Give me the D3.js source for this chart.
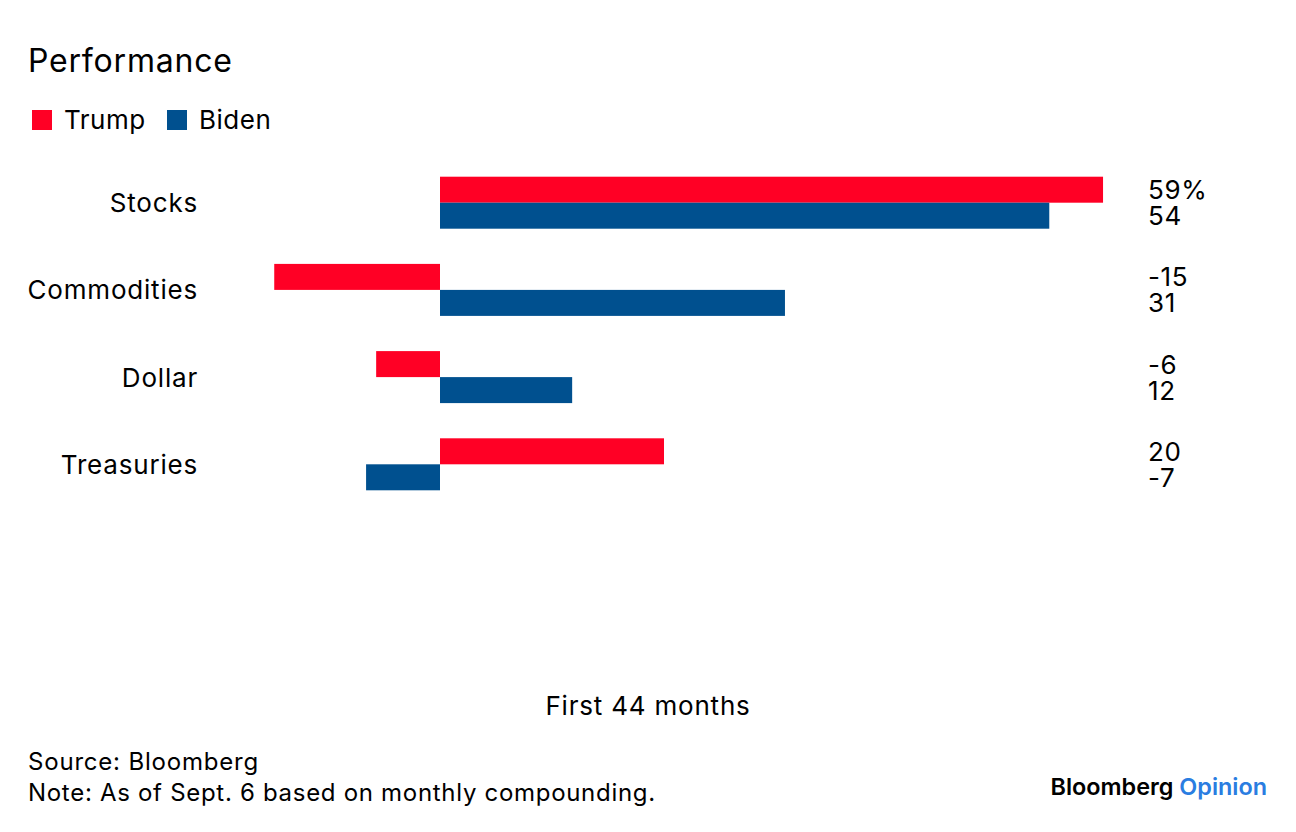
<!DOCTYPE html>
<html>
<head>
<meta charset="utf-8">
<script src="https://cdn.jsdelivr.net/npm/d3@7"></script>
<style>
  html, body { margin: 0; padding: 0; background: #fff; }
  svg text { font-family: Inter, "Liberation Sans", Arial, sans-serif; fill: #000; letter-spacing: 0.8px; }
</style>
</head>
<body>
<svg id="chart" width="1296" height="832"></svg>
<script>
const categories = ["Stocks", "Commodities", "Dollar", "Treasuries"];
const seriesNames = ["Trump", "Biden"];
const trumpValues = [59.2, -14.8, -5.7, 20.0];
const bidenValues = [54.4, 30.8, 11.8, -6.6];
const colors = ["#ff0025", "#00508f"];

const svg = d3.select("#chart");

// Title
svg.append("text").attr("x", 28).attr("y", 72)
  .style("font-size", "32px").text("Performance");

// Legend
const legend = svg.append("g");
const legendX = [32, 167];
seriesNames.forEach((name, i) => {
  legend.append("rect").attr("x", legendX[i]).attr("y", 110)
    .attr("width", 20).attr("height", 20).attr("fill", colors[i]);
  legend.append("text").attr("x", legendX[i] + 32).attr("y", 129)
    .style("font-size", "26px").style("letter-spacing", "0.5px").text(name);
});

// Scales
const x = d3.scaleLinear().domain([-20, 60]).range([216, 1112]);
const y = d3.scaleBand().domain(categories).range([176.7, 490.3]).paddingInner(0.4037).paddingOuter(0);
const ySub = d3.scaleBand().domain(seriesNames).range([0, y.bandwidth()]);

const data = categories.map((c, i) => ({ cat: c, vals: [trumpValues[i], bidenValues[i]] }));

const groups = svg.append("g").selectAll("g").data(data).join("g")
  .attr("transform", d => `translate(0,${y(d.cat)})`);

groups.selectAll("rect").data(d => d.vals.map((v, i) => ({ v, s: seriesNames[i], i })))
  .join("rect")
  .attr("x", d => x(Math.min(0, d.v)))
  .attr("width", d => Math.abs(x(d.v) - x(0)))
  .attr("y", d => ySub(d.s))
  .attr("height", ySub.bandwidth())
  .attr("fill", d => colors[d.i]);

// Value labels
const fmt = v => d3.format(".0f")(v).replace("\u2212", "-");
groups.selectAll("text.val").data(d => d.vals.map((v, i) => ({ v, s: seriesNames[i], i, first: d.cat === categories[0] })))
  .join("text").attr("class", "val")
  .attr("x", 1148)
  .attr("y", d => ySub(d.s) + ySub.bandwidth() / 2 + 9.5)
  .style("font-size", "26px").style("letter-spacing", "0.6px")
  .text(d => fmt(d.v) + (d.i === 0 && d.first ? "%" : ""));

// Category labels
svg.append("g").selectAll("text").data(categories).join("text")
  .attr("x", 198).attr("y", d => y(d) + y.bandwidth() / 2 + 9.5)
  .attr("text-anchor", "end").style("font-size", "26px").text(d => d);

// Axis title
svg.append("text").attr("x", 648).attr("y", 715).attr("text-anchor", "middle")
  .style("font-size", "26px").text("First 44 months");

// Footer
svg.append("text").attr("x", 28).attr("y", 770).style("font-size", "24px").style("letter-spacing", "0.8px").text("Source: Bloomberg");
svg.append("text").attr("x", 28).attr("y", 801).style("font-size", "24px").style("letter-spacing", "0.7px").text("Note: As of Sept. 6 based on monthly compounding.");

// Logo
const logo = svg.append("text").attr("x", 1267).attr("y", 795).attr("text-anchor", "end")
  .style("font-family", "Inter, Roboto, sans-serif").style("font-size", "23.4px").style("font-weight", "600").style("letter-spacing", "0px");
logo.append("tspan").style("fill", "#000").text("Bloomberg ");
logo.append("tspan").style("fill", "#2a7de1").text("Opinion");
</script>
</body>
</html>
